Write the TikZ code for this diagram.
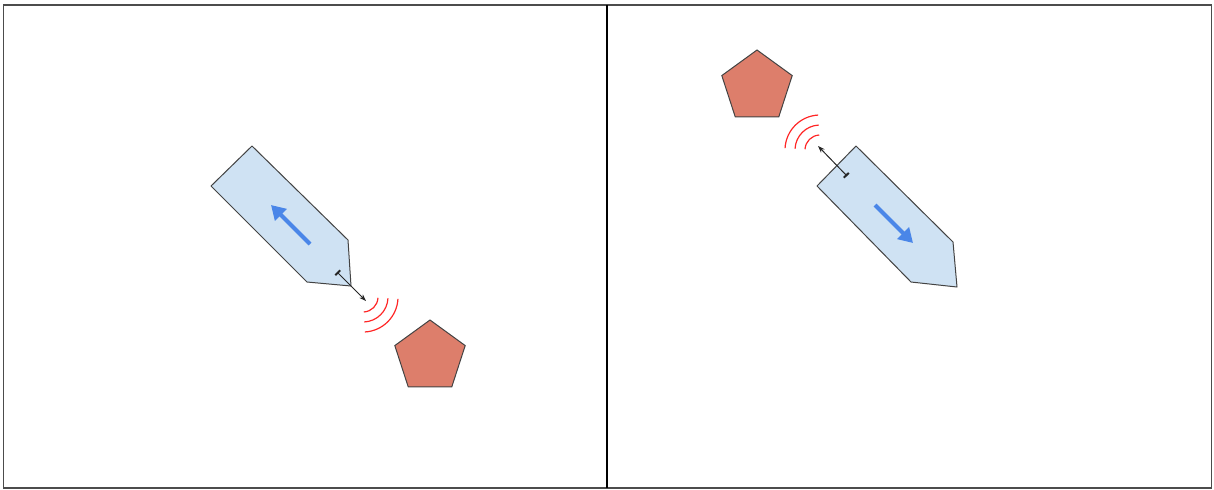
\documentclass[tikz,border=0pt]{standalone}
\usepackage{tikz}
\usetikzlibrary{arrows.meta,shapes.geometric}
\definecolor{hullblue}{HTML}{CFE2F3}
\definecolor{rockred}{HTML}{DD7E6B}
\definecolor{headblue}{HTML}{4A86E8}
\definecolor{outline}{HTML}{434343}

\begin{document}
\begin{tikzpicture}[x=0.5pt,y=-0.5pt,
  hull/.style={fill=hullblue,draw=outline,line width=0.5pt,line join=round},
  rock/.style={regular polygon,regular polygon sides=5,minimum size=37pt,inner sep=0pt,fill=rockred,draw=outline,line width=0.5pt},
  heading/.style={headblue,line width=2pt,-{Triangle[length=7pt,width=8pt]}},
  sonar/.style={black!85,line width=0.5pt,{Bar[width=3.5pt,line width=1pt]}-{Stealth[length=3.5pt,width=2.5pt]}},
  ping/.style={red!85,line width=0.6pt}]
\useasboundingbox (0,0) rectangle (1214,489);
\draw[black!70,line width=0.75pt] (3.5,5) rectangle (1211.5,488);
\draw[line width=1.1pt] (607,5) -- (607,488);
% left panel
\draw[hull] (252,146) -- (211,186) -- (307,282) -- (351,286) -- (348,240) -- cycle;
\coordinate (lh0) at (310,244); \coordinate (lh1) at (271,205);
\draw[heading] (lh0) -- (lh1);
\coordinate (ls0) at (337,272); \coordinate (ls1) at (366,301);
\draw[sonar] (ls0) -- (ls1);
\coordinate (lp) at (363,297);
\foreach \r in {7.5,12.5,17.5}{\draw[ping] ([shift={(-87:\r pt)}]lp) arc[start angle=-87,end angle=-3,radius=\r pt];}
\node[rock] (lrock) at (430,357) {};
% right panel
\draw[hull] (856,146) -- (817,186) -- (911,282) -- (957,287) -- (953,242) -- cycle;
\coordinate (rh0) at (875,205); \coordinate (rh1) at (913,243);
\draw[heading] (rh0) -- (rh1);
\coordinate (rs0) at (847,176); \coordinate (rs1) at (818,146);
\draw[sonar] (rs0) -- (rs1);
\coordinate (rp) at (820,150);
\foreach \r in {7.5,12.5,17.5}{\draw[ping] ([shift={(93:\r pt)}]rp) arc[start angle=93,end angle=177,radius=\r pt];}
\node[rock] (rrock) at (757,87) {};
\end{tikzpicture}
\end{document}
